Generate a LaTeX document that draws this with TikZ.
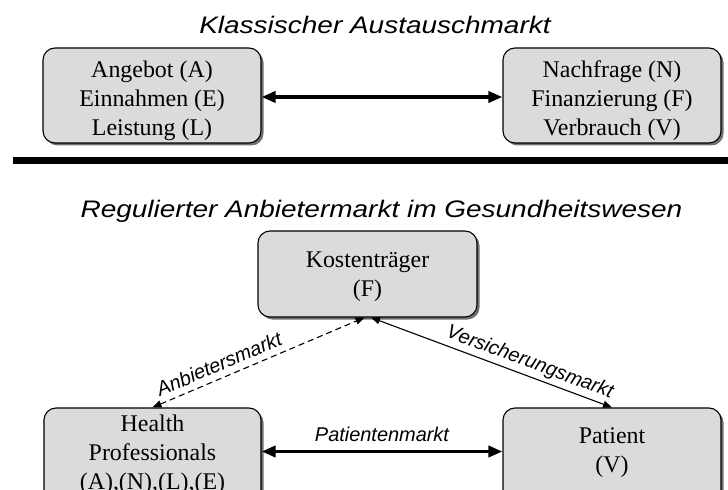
\documentclass[tikz,border=0pt]{standalone}
\usepackage{fontspec}
\setmainfont{Liberation Serif}
\setsansfont{Liberation Sans}
\usetikzlibrary{arrows.meta,shadows}
\begin{document}
\begin{tikzpicture}[x=1bp,y=-1bp,
  box/.style={draw=black, line width=1.1bp, fill=black!14, rounded corners=12bp,
    inner sep=0pt,
    drop shadow={shadow xshift=2.5bp, shadow yshift=-2.5bp, fill=black!70, opacity=0.8}},
  boxtext/.style={align=center, font=\fontsize{24}{29}\selectfont, inner sep=0pt},
  ttl/.style={font=\sffamily\itshape\fontsize{24}{28}\selectfont, inner sep=0pt, anchor=base},
  lbl/.style={font=\sffamily\itshape\fontsize{20}{24}\selectfont},
  bigarr/.style={line width=3.5bp, {Triangle[length=14bp,width=11bp]}-{Triangle[length=14bp,width=11bp]}},
  thinarr/.style={line width=1.1bp, {Triangle[length=9bp,width=7bp]}-{Triangle[length=9bp,width=7bp]}}
]
\useasboundingbox (0,0) rectangle (728,490);
\clip (0,0) rectangle (728,490);
% top section
\node[ttl] (t1) at (375,34) {\scalebox{1.17}[1]{Klassischer Austauschmarkt}};
\node[box, minimum width=218bp, minimum height=95bp] (tl) at (152,95.5) {};
\node[boxtext] (tltext) at (152,100.4) {Angebot (A)\\Einnahmen (E)\\Leistung (L)};
\node[box, minimum width=218bp, minimum height=95bp] (tr) at (612,95.5) {};
\node[boxtext] (trtext) at (612,100.4) {Nachfrage (N)\\Finanzierung (F)\\Verbrauch (V)};
\draw[bigarr] ([yshift=-1.5bp]tl.east) -- ([yshift=-1.5bp]tr.west);
% separator
\draw[line width=7bp] (13,161) -- (728,161);
% bottom section
\node[ttl] (t2) at (381.5,217.5) {\scalebox{1.17}[1]{Regulierter Anbietermarkt im Gesundheitswesen}};
\node[box, minimum width=219bp, minimum height=86bp] (kt) at (367.5,274) {};
\node[boxtext] (kttext) at (367.5,277) {Kostenträger\\(F)};
\node[box, minimum width=217bp, minimum height=95bp] (hp) at (152.5,455.5) {};
\node[boxtext] (hptext) at (152.5,454.4) {Health\\Professionals\\(A),(N),(L),(E)};
\node[box, minimum width=218bp, minimum height=95bp] (pt) at (612,455.5) {};
\node[boxtext] (pttext) at (612,452.4) {Patient\\(V)};
\draw[bigarr] ([yshift=4bp]hp.east) -- ([yshift=4bp]pt.west) node[midway, above=5bp, lbl] {Patientenmarkt};
\draw[thinarr, dash pattern=on 6bp off 4bp] (hp.north) -- ([xshift=-3bp]kt.south)
  node[pos=0.34, sloped, above=3bp, lbl] {Anbietersmarkt};
\draw[thinarr] ([xshift=3.5bp]kt.south) -- (pt.north)
  node[pos=0.64, sloped, above, lbl] {Versicherungsmarkt};
\end{tikzpicture}
\end{document}
